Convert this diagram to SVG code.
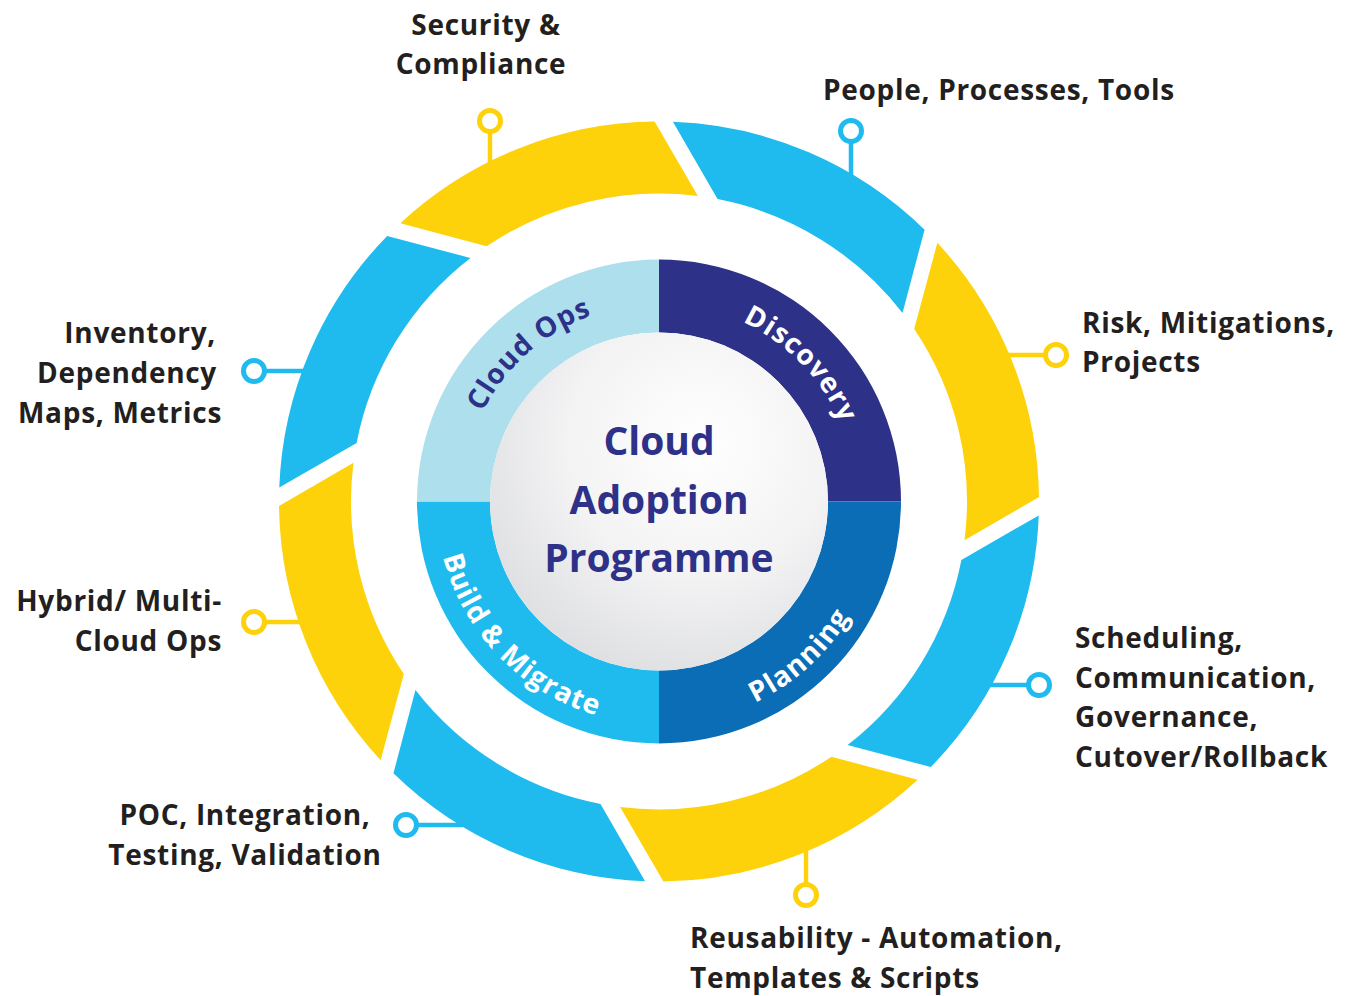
<svg xmlns="http://www.w3.org/2000/svg" width="1351" height="996" viewBox="0 0 1351 996">
<style>
.lbl{font-family:"Open Sans","Liberation Sans",sans-serif;font-weight:700;font-size:28px;fill:#231F20;letter-spacing:0.7px}
.ring{font-family:"Open Sans","Liberation Sans",sans-serif;font-weight:700;font-size:28px;letter-spacing:1px}
.ctr{font-family:"Open Sans","Liberation Sans",sans-serif;font-weight:700;font-size:39px;fill:#2E3188}
.y{fill:#FDD20B}
.b{fill:#1FBBEE}
.pin-y{stroke:#FDD20B;fill:none}
.pin-b{stroke:#1FBBEE;fill:none}
.pin-y circle,.pin-b circle{fill:#fff;stroke-width:5}
.pin-y line,.pin-b line{stroke-width:4.5}
</style>
<defs>
<path id="seg" d="M672.92,121.76 A380,380 0 0 1 924.56,229.69 L902.53,312.94 A308,308 0 0 0 717.50,199.11 Z"/>
<path id="arcTop" d="M461,501.5 A198,198 0 0 1 857,501.5"/>
<path id="arcBot" d="M436,501.5 A223,223 0 0 0 882,501.5"/>
<radialGradient id="cg" cx="0.62" cy="0.33" r="0.78">
<stop offset="0" stop-color="#FFFFFF"/>
<stop offset="0.5" stop-color="#F3F3F4"/>
<stop offset="1" stop-color="#DADBDE"/>
</radialGradient>
</defs>
<rect width="1351" height="996" fill="#fff"/>

<g id="connectors">
<g class="pin-b"><line x1="851" y1="177" x2="851" y2="140"/><circle cx="851" cy="131" r="10.5"/></g>
<g class="pin-y"><line x1="1006" y1="355" x2="1046" y2="355"/><circle cx="1056" cy="355" r="10.5"/></g>
<g class="pin-b"><line x1="988" y1="685" x2="1029" y2="685"/><circle cx="1039" cy="685" r="10.5"/></g>
<g class="pin-y"><line x1="806" y1="848" x2="806" y2="885"/><circle cx="806" cy="895" r="10.5"/></g>
<g class="pin-b"><line x1="463" y1="825" x2="416" y2="825"/><circle cx="406" cy="825" r="10.5"/></g>
<g class="pin-y"><line x1="302" y1="622" x2="264" y2="622"/><circle cx="254" cy="622" r="10.5"/></g>
<g class="pin-b"><line x1="306" y1="371" x2="264" y2="371"/><circle cx="254" cy="371" r="10.5"/></g>
<g class="pin-y"><line x1="490" y1="165" x2="490" y2="131"/><circle cx="490" cy="121" r="10.5"/></g>
</g>

<g id="people">
<use href="#seg" class="b"/>
<text class="lbl" x="823" y="100">People, Processes, Tools</text>
</g>
<g id="risk">
<use href="#seg" class="y" transform="rotate(45 659 501.5)"/>
<text class="lbl" x="1082" y="333">Risk, Mitigations,</text>
<text class="lbl" x="1082" y="372">Projects</text>
</g>
<g id="scheduling">
<use href="#seg" class="b" transform="rotate(90 659 501.5)"/>
<text class="lbl" x="1075" y="648">Scheduling,</text>
<text class="lbl" x="1075" y="688">Communication,</text>
<text class="lbl" x="1075" y="727">Governance,</text>
<text class="lbl" x="1075" y="767">Cutover/Rollback</text>
</g>
<g id="reusability">
<use href="#seg" class="y" transform="rotate(135 659 501.5)"/>
<text class="lbl" x="690" y="948">Reusability - Automation,</text>
<text class="lbl" x="690" y="988">Templates &amp; Scripts</text>
</g>
<g id="poc">
<use href="#seg" class="b" transform="rotate(180 659 501.5)"/>
<text class="lbl" x="245" y="825" text-anchor="middle">POC, Integration,</text>
<text class="lbl" x="245" y="865" text-anchor="middle">Testing, Validation</text>
</g>
<g id="hybrid">
<use href="#seg" class="y" transform="rotate(225 659 501.5)"/>
<text class="lbl" x="222" y="611" text-anchor="end">Hybrid/ Multi-</text>
<text class="lbl" x="222" y="651" text-anchor="end">Cloud Ops</text>
</g>
<g id="inventory">
<use href="#seg" class="b" transform="rotate(270 659 501.5)"/>
<text class="lbl" x="216" y="343" text-anchor="end">Inventory,</text>
<text class="lbl" x="217" y="383" text-anchor="end">Dependency</text>
<text class="lbl" x="222" y="423" text-anchor="end">Maps, Metrics</text>
</g>
<g id="security">
<use href="#seg" class="y" transform="rotate(315 659 501.5)"/>
<text class="lbl" x="486" y="35" text-anchor="middle">Security &amp;</text>
<text class="lbl" x="481" y="74" text-anchor="middle">Compliance</text>
</g>

<g id="discovery">
<path d="M659,259.5 A242,242 0 0 1 901,501.5 L828,501.5 A169,169 0 0 0 659,332.5 Z" fill="#2E3188"/>
<text class="ring" fill="#fff" text-anchor="middle"><textPath href="#arcTop" startOffset="75.5%">Discovery</textPath></text>
</g>
<g id="planning">
<path d="M901,501.5 A242,242 0 0 1 659,743.5 L659,670.5 A169,169 0 0 0 828,501.5 Z" fill="#0B6DB5"/>
<text class="ring" fill="#fff" text-anchor="middle"><textPath href="#arcBot" startOffset="73.5%">Planning</textPath></text>
</g>
<g id="build-migrate">
<path d="M659,743.5 A242,242 0 0 1 417,501.5 L490,501.5 A169,169 0 0 0 659,670.5 Z" fill="#1FBBEE"/>
<text class="ring" fill="#fff" text-anchor="middle"><textPath href="#arcBot" startOffset="24.5%">Build &amp; Migrate</textPath></text>
</g>
<g id="cloud-ops">
<path d="M417,501.5 A242,242 0 0 1 659,259.5 L659,332.5 A169,169 0 0 0 490,501.5 Z" fill="#ADDFEC"/>
<text class="ring" fill="#2E3188" text-anchor="middle"><textPath href="#arcTop" startOffset="27%">Cloud Ops</textPath></text>
</g>

<g id="center">
<circle cx="659" cy="501.5" r="169" fill="url(#cg)"/>
<text class="ctr" x="659" y="455" text-anchor="middle">Cloud</text>
<text class="ctr" x="659" y="514" text-anchor="middle">Adoption</text>
<text class="ctr" x="659" y="572" text-anchor="middle">Programme</text>
</g>
</svg>
